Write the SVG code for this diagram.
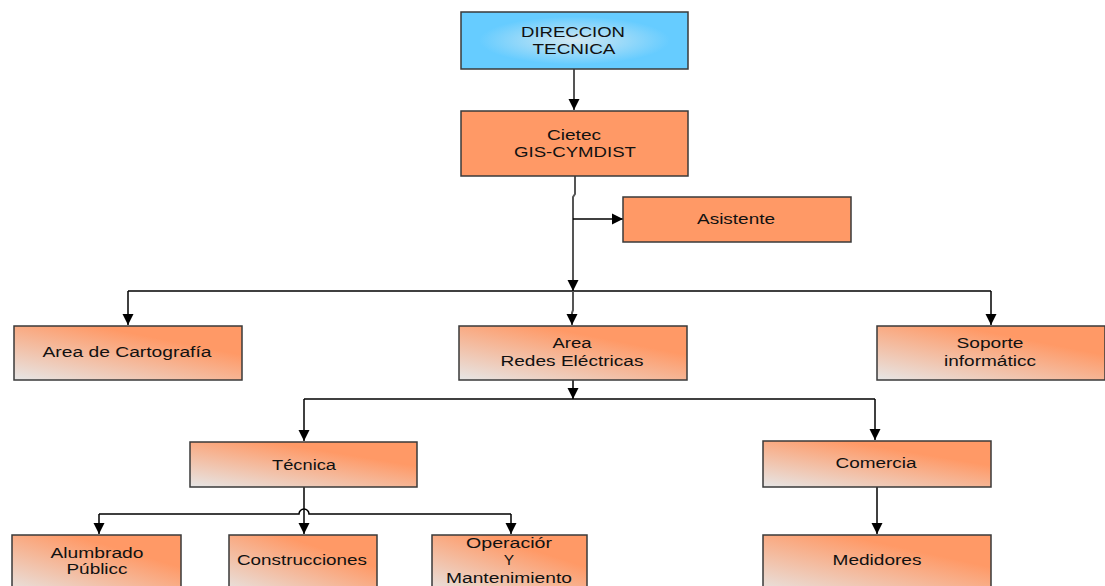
<svg xmlns="http://www.w3.org/2000/svg" width="1105" height="586" viewBox="0 0 1105 586">
<defs>
<radialGradient id="blue" cx="0.5" cy="0.5" r="0.6">
<stop offset="0" stop-color="#d2e8f2"/>
<stop offset="0.7" stop-color="#66ccff"/>
<stop offset="1" stop-color="#66ccff"/>
</radialGradient>
<linearGradient id="org" x1="0" y1="1" x2="0.75" y2="0.1">
<stop offset="0" stop-color="#e6e6e6"/>
<stop offset="0.85" stop-color="#ff9966"/>
<stop offset="1" stop-color="#ff9966"/>
</linearGradient>
<marker id="ah" markerUnits="userSpaceOnUse" markerWidth="12" markerHeight="12" viewBox="0 0 12 12" refX="11" refY="6" orient="auto">
<path d="M0,0.5 L11,6 L0,11.5 Z" fill="#000"/>
</marker>
<style>
.box{stroke:#3a3a3a;stroke-width:1.5}
.flat{fill:#ff9966}
.grad{fill:url(#org)}
.t{font-family:"Liberation Sans",Arial,sans-serif;font-size:15.5px;fill:#111;text-anchor:middle}
.c{fill:none;stroke:#000;stroke-width:1.5}
.g{fill:none;stroke:#555;stroke-width:2}
</style>
</defs>
<g id="connectors">
<path class="g" d="M574,69 V110" marker-end="url(#ah)"/>
<path class="g" d="M575,176 V194 L573,197 V291" marker-end="url(#ah)"/>
<path class="c" d="M573,219 H623" marker-end="url(#ah)"/>
<path class="c" d="M128,291 H991"/>
<path class="c" d="M128,291 V325" marker-end="url(#ah)"/>
<path class="c" d="M991,291 V325" marker-end="url(#ah)"/>
<path class="g" d="M573,291 V310 L572,313 V325" marker-end="url(#ah)"/>
<path class="c" d="M573,380 V399" marker-end="url(#ah)"/>
<path class="c" d="M304,399 H875"/>
<path class="c" d="M304,399 V441" marker-end="url(#ah)"/>
<path class="c" d="M875,399 V440" marker-end="url(#ah)"/>
<path class="c" d="M304,487 V534" marker-end="url(#ah)"/>
<path class="c" d="M99,514 H299 A5,5 0 0 1 309,514 H511"/>
<path class="c" d="M99,514 V534" marker-end="url(#ah)"/>
<path class="c" d="M511,514 V534" marker-end="url(#ah)"/>
<path class="c" d="M877,487 V534" marker-end="url(#ah)"/>
</g>
<g id="direccion">
<rect class="box" x="461" y="12" width="227" height="57" fill="url(#blue)"/>
<text class="t" x="573" y="37" textLength="104" lengthAdjust="spacingAndGlyphs">DIRECCION</text>
<text class="t" x="574" y="54" textLength="83" lengthAdjust="spacingAndGlyphs">TECNICA</text>
</g>
<g id="cietec">
<rect class="box flat" x="461" y="111" width="227" height="65"/>
<text class="t" x="574" y="140" textLength="54" lengthAdjust="spacingAndGlyphs">Cietec</text>
<text class="t" x="575" y="157" textLength="122" lengthAdjust="spacingAndGlyphs">GIS-CYMDIST</text>
</g>
<g id="asistente">
<rect class="box flat" x="623" y="197" width="228" height="45"/>
<text class="t" x="736" y="224" textLength="78" lengthAdjust="spacingAndGlyphs">Asistente</text>
</g>
<g id="cartografia">
<rect class="box grad" x="14" y="326" width="228" height="54"/>
<text class="t" x="127" y="357" textLength="169" lengthAdjust="spacingAndGlyphs">Area de Cartografía</text>
</g>
<g id="redes">
<rect class="box grad" x="459" y="326" width="228" height="54"/>
<text class="t" x="572" y="348" textLength="39" lengthAdjust="spacingAndGlyphs">Area</text>
<text class="t" x="572" y="366" textLength="143" lengthAdjust="spacingAndGlyphs">Redes Eléctricas</text>
</g>
<g id="soporte">
<rect class="box grad" x="877" y="326" width="228" height="54"/>
<text class="t" x="990" y="348" textLength="67" lengthAdjust="spacingAndGlyphs">Soporte</text>
<text class="t" x="990" y="366" textLength="92" lengthAdjust="spacingAndGlyphs">informáticc</text>
</g>
<g id="tecnica">
<rect class="box grad" x="190" y="442" width="227" height="45"/>
<text class="t" x="304" y="470" textLength="64" lengthAdjust="spacingAndGlyphs">Técnica</text>
</g>
<g id="comercia">
<rect class="box grad" x="763" y="441" width="228" height="46"/>
<text class="t" x="876" y="468" textLength="81" lengthAdjust="spacingAndGlyphs">Comercia</text>
</g>
<g id="alumbrado">
<rect class="box grad" x="12" y="535" width="169" height="60"/>
<text class="t" x="97" y="558" textLength="93" lengthAdjust="spacingAndGlyphs">Alumbrado</text>
<text class="t" x="97" y="574" textLength="61" lengthAdjust="spacingAndGlyphs">Públicc</text>
</g>
<g id="construcciones">
<rect class="box grad" x="229" y="535" width="148" height="60"/>
<text class="t" x="302" y="565" textLength="130" lengthAdjust="spacingAndGlyphs">Construcciones</text>
</g>
<g id="operacion">
<rect class="box grad" x="432" y="535" width="155" height="60"/>
<text class="t" x="509" y="548" textLength="86" lengthAdjust="spacingAndGlyphs">Operaciór</text>
<text class="t" x="509" y="565">Y</text>
<text class="t" x="509" y="583" textLength="126" lengthAdjust="spacingAndGlyphs">Mantenimiento</text>
</g>
<g id="medidores">
<rect class="box grad" x="763" y="535" width="228" height="60"/>
<text class="t" x="877" y="565" textLength="89" lengthAdjust="spacingAndGlyphs">Medidores</text>
</g>
</svg>
